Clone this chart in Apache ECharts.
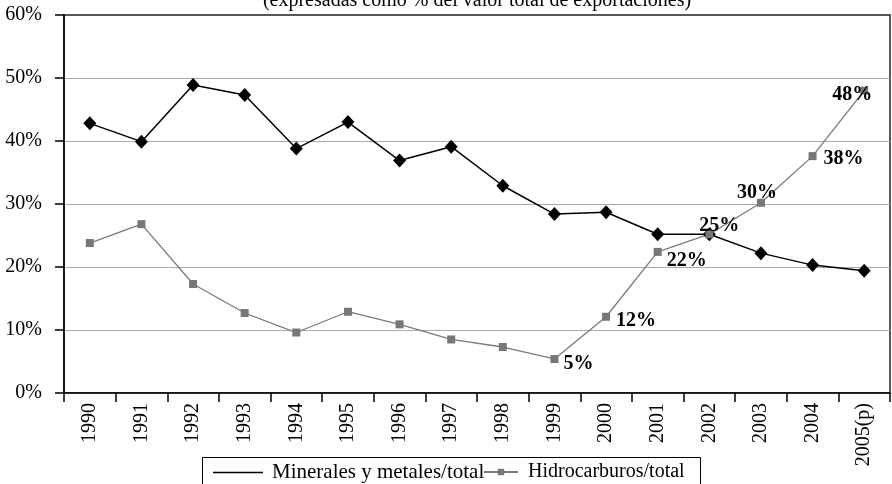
<!DOCTYPE html>
<html>
<head>
<meta charset="utf-8">
<script src="https://cdn.jsdelivr.net/npm/echarts@6/dist/echarts.min.js"></script>
<style>
  html, body { margin: 0; padding: 0; background: #fff; }
  #chart { width: 892px; height: 484px; }
</style>
</head>
<body>
<div id="chart"></div>
<script>
// Export shares, in % of total export value
const years = ['1990', '1991', '1992', '1993', '1994', '1995', '1996', '1997',
               '1998', '1999', '2000', '2001', '2002', '2003', '2004', '2005(p)'];
const minerales = [42.8, 39.9, 48.9, 47.3, 38.8, 43.0, 36.9, 39.1,
                   32.9, 28.4, 28.7, 25.2, 25.2, 22.2, 20.3, 19.4];
const hidrocarburos = [23.8, 26.8, 17.3, 12.7, 9.6, 12.9, 10.9, 8.5,
                       7.3, 5.4, 12.1, 22.4, 25.2, 30.2, 37.6, 48.0];
const yTicks = [0, 10, 20, 30, 40, 50, 60];
const seriesNames = ['Minerales y metales/total', 'Hidrocarburos/total'];
const subtitle = '(expresadas como % del valor total de exportaciones)';

// Years whose hydrocarbon share gets a value label, with the label's shift from its point
const labelShift = {
  '1999': [24, 5],
  '2000': [30, 4],
  '2001': [29, 9],
  '2002': [10, -8],
  '2003': [-4, -10],
  '2004': [31, 3],
  '2005(p)': [-12, 4]
};

const serif = '"Liberation Serif", "Times New Roman", serif';

const hidroData = hidrocarburos.map((v, i) => {
  const shift = labelShift[years[i]];
  return shift
    ? { value: v, label: { show: true, position: 'inside', offset: shift } }
    : { value: v, label: { show: false } };
});

const chart = echarts.init(document.getElementById('chart'), null, { renderer: 'canvas' });

chart.setOption({
  animation: false,
  backgroundColor: '#fff',
  textStyle: { fontFamily: serif },
  graphic: [
    {
      type: 'text',
      style: {
        x: 477, y: 11,
        text: subtitle,
        font: '20px ' + serif,
        fill: '#000',
        textAlign: 'center',
        textVerticalAlign: 'bottom'
      }
    },
    {
      type: 'rect',
      z: 1,
      shape: { x: 202.5, y: 457.5, width: 498, height: 40 },
      style: { fill: '#fff', stroke: '#000', lineWidth: 1 }
    }
  ],
  grid: {
    left: 64, right: 2, top: 15, bottom: 91,
    show: true, borderColor: '#222', borderWidth: 1.5, backgroundColor: 'transparent'
  },
  legend: [
    {
      data: [{ name: seriesNames[0], icon: 'rect' }],
      left: 213, top: 462,
      itemWidth: 50, itemHeight: 1.5,
      padding: 0, z: 5,
      selectedMode: false,
      textStyle: { fontFamily: serif, fontSize: 21, color: '#000', padding: [0, 0, 0, 4] }
    },
    {
      data: [seriesNames[1]],
      left: 483, top: 462,
      itemWidth: 34, itemHeight: 8,
      padding: 0, z: 5,
      selectedMode: false,
      textStyle: { fontFamily: serif, fontSize: 20, color: '#000', padding: [0, 0, 0, 5] }
    }
  ],
  xAxis: {
    type: 'category',
    data: years,
    boundaryGap: true,
    axisLine: { lineStyle: { color: '#000', width: 1.5 } },
    axisTick: { show: true, interval: 0, length: 9, lineStyle: { color: '#000', width: 1.5 } },
    axisLabel: {
      interval: 0, rotate: 90, margin: 10,
      fontFamily: serif, fontSize: 20, color: '#000'
    },
    splitLine: { show: false }
  },
  yAxis: {
    type: 'value',
    min: yTicks[0], max: yTicks[yTicks.length - 1], interval: 10,
    axisLine: { show: true, lineStyle: { color: '#000', width: 1.5 } },
    axisTick: { show: true, length: 9, lineStyle: { color: '#000', width: 1.5 } },
    axisLabel: {
      margin: 22, fontFamily: serif, fontSize: 20, color: '#000',
      formatter: '{value}%'
    },
    splitLine: { show: true, showMaxLine: false, lineStyle: { color: '#aaaaaa', width: 1.2 } }
  },
  series: [
    {
      name: seriesNames[0],
      type: 'line',
      data: minerales,
      symbol: 'diamond',
      symbolSize: [13, 14],
      itemStyle: { color: '#000' },
      lineStyle: { color: '#000', width: 1.5 }
    },
    {
      name: seriesNames[1],
      type: 'line',
      data: hidroData,
      symbol: 'rect',
      symbolSize: 8,
      itemStyle: { color: '#777' },
      lineStyle: { color: '#7a7a7a', width: 1.3 },
      label: {
        fontFamily: serif, fontSize: 20, fontWeight: 'bold', color: '#000',
        formatter: p => Math.round(p.value) + '%'
      }
    }
  ]
});
</script>
</body>
</html>
